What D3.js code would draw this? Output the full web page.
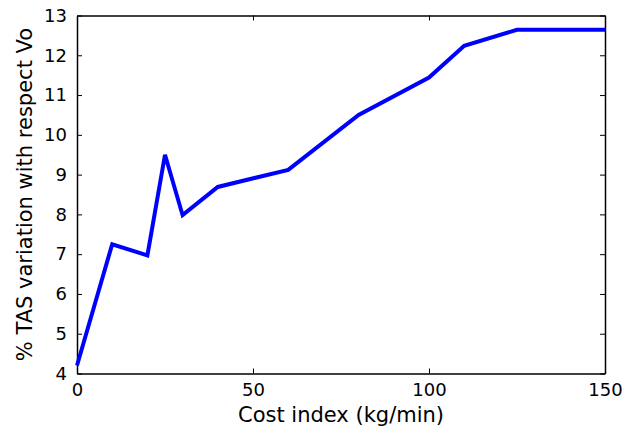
<!DOCTYPE html>
<html>
<head>
<meta charset="utf-8">
<script src="https://cdn.jsdelivr.net/npm/d3@7"></script>
<style>
  body { margin: 0; background: #fff; }
  svg { font-family: "DejaVu Sans", sans-serif; }
</style>
</head>
<body>
<div id="chart"></div>
<script>
// cost index (kg/min) and TAS variation (%)
const costIndex = [0, 10, 20, 25, 30, 40, 60, 80, 100, 110, 125, 150];
const tasVariation = [4.2, 7.25, 6.97, 9.5, 7.98, 8.69, 9.12, 10.5, 11.44, 12.24, 12.64, 12.64];
const xTicks = [0, 50, 100, 150];
const yTicks = [4, 5, 6, 7, 8, 9, 10, 11, 12, 13];

const margin = { top: 15.5, right: 26, bottom: 56.5, left: 77 },
      width = 631 - margin.left - margin.right,
      height = 430 - margin.top - margin.bottom;

const svg = d3.select("#chart")
  .append("svg")
  .attr("width", 631)
  .attr("height", 430)
  .append("g")
  .attr("transform", `translate(${margin.left}, ${margin.top})`);

const xScale = d3.scaleLinear().domain([0, 150]).range([0, width]);
const yScale = d3.scaleLinear().domain([4, 13]).range([height, 0]);

const data = costIndex.map((c, i) => ({ x: c, y: tasVariation[i] }));

const tickLen = 5;

// axes with inward ticks on all four sides
svg.append("g")
  .attr("class", "axis")
  .attr("transform", `translate(0,${height})`)
  .call(d3.axisBottom(xScale).tickValues(xTicks).tickSizeInner(-tickLen).tickSizeOuter(0).tickPadding(9.5));
svg.append("g")
  .attr("class", "axis")
  .call(d3.axisTop(xScale).tickValues(xTicks).tickSizeInner(-tickLen).tickSizeOuter(0).tickFormat(""));
svg.append("g")
  .attr("class", "axis")
  .call(d3.axisLeft(yScale).tickValues(yTicks).tickSizeInner(-tickLen).tickSizeOuter(0).tickPadding(10));
svg.append("g")
  .attr("class", "axis")
  .attr("transform", `translate(${width},0)`)
  .call(d3.axisRight(yScale).tickValues(yTicks).tickSizeInner(-tickLen).tickSizeOuter(0).tickFormat(""));

svg.selectAll(".axis path").attr("stroke", "#000").attr("stroke-width", 1.5);
svg.selectAll(".axis line").attr("stroke", "#000").attr("stroke-width", 1);
svg.selectAll(".axis text")
  .attr("font-family", "DejaVu Sans, sans-serif")
  .attr("font-size", "18px")
  .attr("fill", "#000");

const lineGenerator = d3.line()
  .x(d => xScale(d.x))
  .y(d => yScale(d.y));

svg.append("path")
  .attr("fill", "none")
  .attr("stroke", "#0000ff")
  .attr("stroke-width", 4)
  .attr("stroke-linejoin", "miter")
  .attr("d", lineGenerator(data));

svg.append("text")
  .attr("text-anchor", "middle")
  .attr("x", width / 2)
  .attr("y", height + 48.5)
  .attr("font-size", "21px")
  .attr("fill", "#000")
  .text("Cost index (kg/min)");

svg.append("text")
  .attr("text-anchor", "middle")
  .attr("x", -height / 2)
  .attr("y", -45)
  .attr("transform", "rotate(-90)")
  .attr("font-size", "21px")
  .attr("fill", "#000")
  .text("% TAS variation with respect Vo");
</script>
</body>
</html>
